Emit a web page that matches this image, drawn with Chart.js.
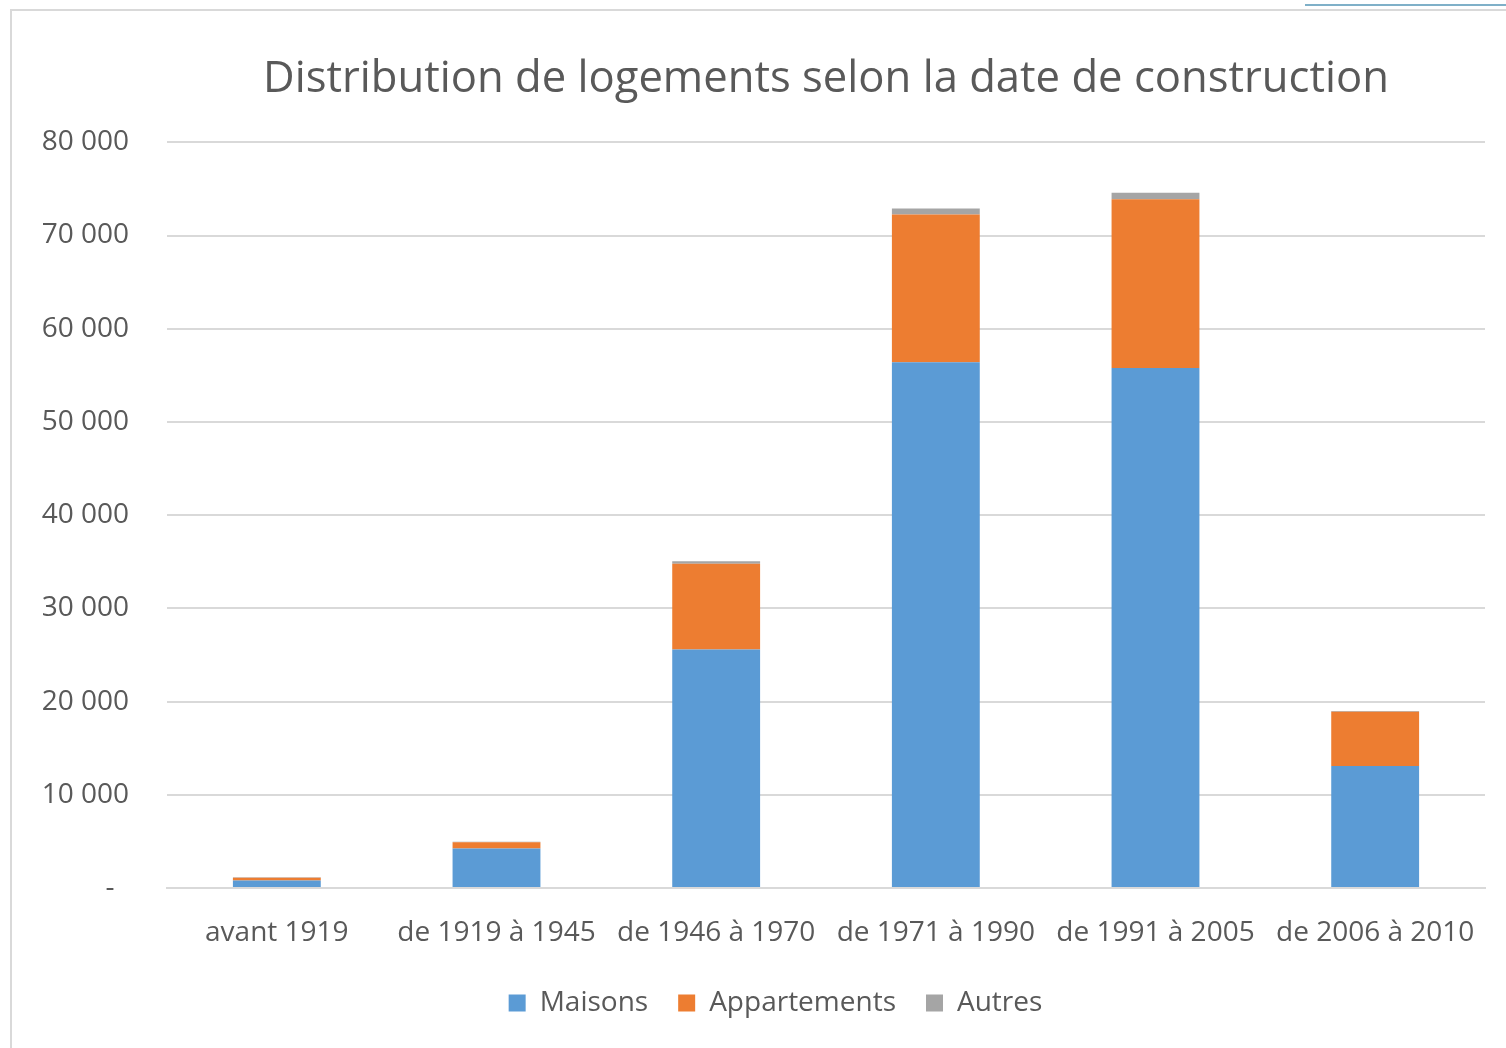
<!DOCTYPE html>
<html>
<head>
<meta charset="utf-8">
<script src="https://cdn.jsdelivr.net/npm/chart.js@4"></script>
<style>
  html, body { margin: 0; padding: 0; background: #fff; }
  #wrap { position: relative; width: 1506px; height: 1048px; }
  #frame { position: absolute; left: 10px; top: 9px; right: 0; bottom: 0;
           border-left: 2px solid #d9d9d9; border-top: 2px solid #d9d9d9; }
  #tab { position: absolute; left: 1305px; top: 4px; width: 201px; height: 2px; background: #7fb0c8; }
  canvas { position: absolute; left: 0; top: 0; }
</style>
</head>
<body>
<div id="wrap">
  <div id="frame"></div>
  <div id="tab"></div>
  <canvas id="logementsChart" width="1506" height="1048"></canvas>
</div>
<script>
// Data
const periodes = ['avant 1919', 'de 1919 à 1945', 'de 1946 à 1970', 'de 1971 à 1990', 'de 1991 à 2005', 'de 2006 à 2010'];
const maisons = [800, 4250, 25600, 56400, 55800, 13100];
const appartements = [300, 650, 9200, 15850, 18100, 5800];
const autres = [50, 50, 250, 650, 700, 100];
const yTicks = [0, 10000, 20000, 30000, 40000, 50000, 60000, 70000, 80000];

const textColor = '#595959';
const fontFamily = '"Open Sans", "Noto Sans", sans-serif';

function formatNombre(v) {
  if (v === 0) return '-  ';
  return String(v).replace(/\B(?=(\d{3})+(?!\d))/g, ' ');
}

// nudge the legend a bit to the right, like in the original
const legendOffset = {
  id: 'legendOffset',
  afterLayout(chart) {
    chart.legend.left += 33;
    chart.legend.right += 33;
  }
};

const ctx = document.getElementById('logementsChart').getContext('2d');

new Chart(ctx, {
  type: 'bar',
  data: {
    labels: periodes,
    datasets: [
      { label: 'Maisons', data: maisons, backgroundColor: '#5B9BD5' },
      { label: 'Appartements', data: appartements, backgroundColor: '#ED7D31' },
      { label: 'Autres', data: autres, backgroundColor: '#A5A5A5' }
    ]
  },
  plugins: [legendOffset],
  options: {
    responsive: false,
    animation: false,
    layout: { padding: { left: 0, right: 21, top: 0, bottom: 21 } },
    datasets: {
      bar: { barPercentage: 0.4, categoryPercentage: 1.0 }
    },
    scales: {
      x: {
        stacked: true,
        grid: { display: false },
        border: { color: '#d9d9d9', width: 2 },
        afterFit: axis => { axis.height = 71; },
        ticks: { color: textColor, font: { family: fontFamily, size: 28 }, padding: 20 }
      },
      y: {
        stacked: true,
        min: 0,
        max: 80000,
        afterBuildTicks: axis => { axis.ticks = yTicks.map(v => ({ value: v })); },
        afterFit: axis => { axis.width = 167; },
        grid: { color: '#d9d9d9', lineWidth: 2, drawTicks: false },
        border: { display: false },
        ticks: {
          color: textColor,
          font: { family: fontFamily, size: 28 },
          padding: 38,
          callback: value => formatNombre(value)
        }
      }
    },
    plugins: {
      title: {
        display: true,
        text: 'Distribution de logements selon la date de construction',
        color: textColor,
        fullSize: false,
        font: { family: fontFamily, size: 43.6, weight: 'normal' },
        padding: { top: 53, bottom: 37 }
      },
      legend: {
        position: 'bottom',
        labels: {
          color: textColor,
          font: { family: fontFamily, size: 28 },
          boxWidth: 17,
          boxHeight: 17,
          padding: 30
        }
      },
      tooltip: { enabled: false }
    }
  }
});
</script>
</body>
</html>
